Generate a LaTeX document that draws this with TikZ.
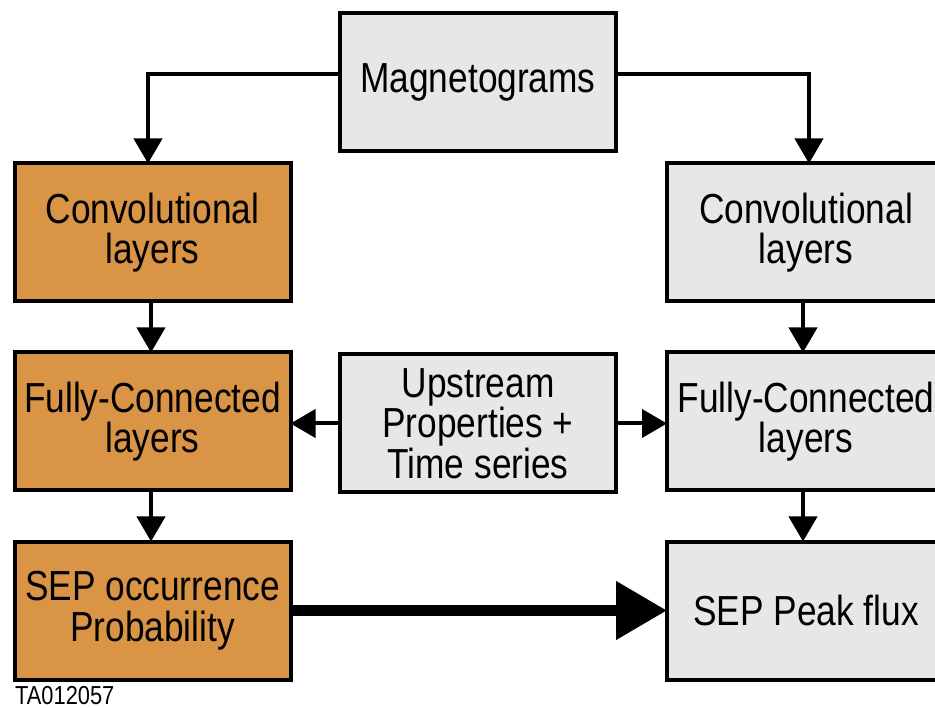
\documentclass[tikz,border=0pt]{standalone}
\usepackage{fontspec}
\setmainfont{Liberation Sans}[FakeStretch=0.84]
\usetikzlibrary{arrows.meta}
\definecolor{boxorange}{RGB}{218,148,70}
\definecolor{boxgray}{RGB}{230,231,230}
\begin{document}
\begin{tikzpicture}[x=1pt,y=-1pt,
  box/.style={draw=black,line width=4pt,rectangle,align=center,inner sep=0pt,outer sep=0pt,
    font=\fontsize{42}{40.5}\selectfont},
  obox/.style={box,fill=boxorange,minimum width=276pt,minimum height=138pt},
  gbox/.style={box,fill=boxgray,minimum width=276pt,minimum height=138pt},
  rbox/.style={box,fill=boxgray,minimum width=278pt,minimum height=138pt},
  arr/.style={line width=4pt,-{Triangle[width=28pt,length=25pt]}},
  bigarr/.style={line width=11pt,-{Triangle[width=56pt,length=51pt]}}]
\useasboundingbox (0,0) rectangle (935,708);
\fill[white] (0,0) rectangle (935,708);
\node[gbox] (mag) at (478,82) {Magnetograms};
\node[obox] (lconv) at (152.5,232.5) {Convolutional\\layers};
\node[obox] (lfc) at (152.5,421.5) {Fully-Connected\\layers};
\node[obox] (lsep) at (152.5,610.5) {SEP occurrence\\Probability};
\node[rbox] (rconv) at (806,232.5) {Convolutional\\layers};
\node[rbox] (rfc) at (806,421.5) {Fully-Connected\\layers};
\node[rbox] (rsep) at (806,610.5) {SEP Peak flux};
\node[gbox] (up) at (478,423.5) {Upstream\\Properties +\\Time series};
\node[anchor=base west,inner sep=0pt,font=\fontsize{26}{26}\selectfont] (ta) at (15,704) {TA012057};
\draw[arr] ([yshift=8pt]mag.west) -| ([xshift=-4.5pt]lconv.north);
\draw[arr] ([yshift=8pt]mag.east) -| ([xshift=3pt]rconv.north);
\draw[arr] ([xshift=-1.5pt]lconv.south) -- ([xshift=-1.5pt]lfc.north);
\draw[arr] ([xshift=-1.5pt]lfc.south) -- ([xshift=-1.5pt]lsep.north);
\draw[arr] ([xshift=-3pt]rconv.south) -- ([xshift=-3pt]rfc.north);
\draw[arr] ([xshift=-3pt]rfc.south) -- ([xshift=-3pt]rsep.north);
\draw[arr] (up.west) -- (lfc.east |- up.west);
\draw[arr] (up.east) -- (rfc.west |- up.east);
\draw[bigarr] (lsep.east) -- (rsep.west);
\end{tikzpicture}
\end{document}
